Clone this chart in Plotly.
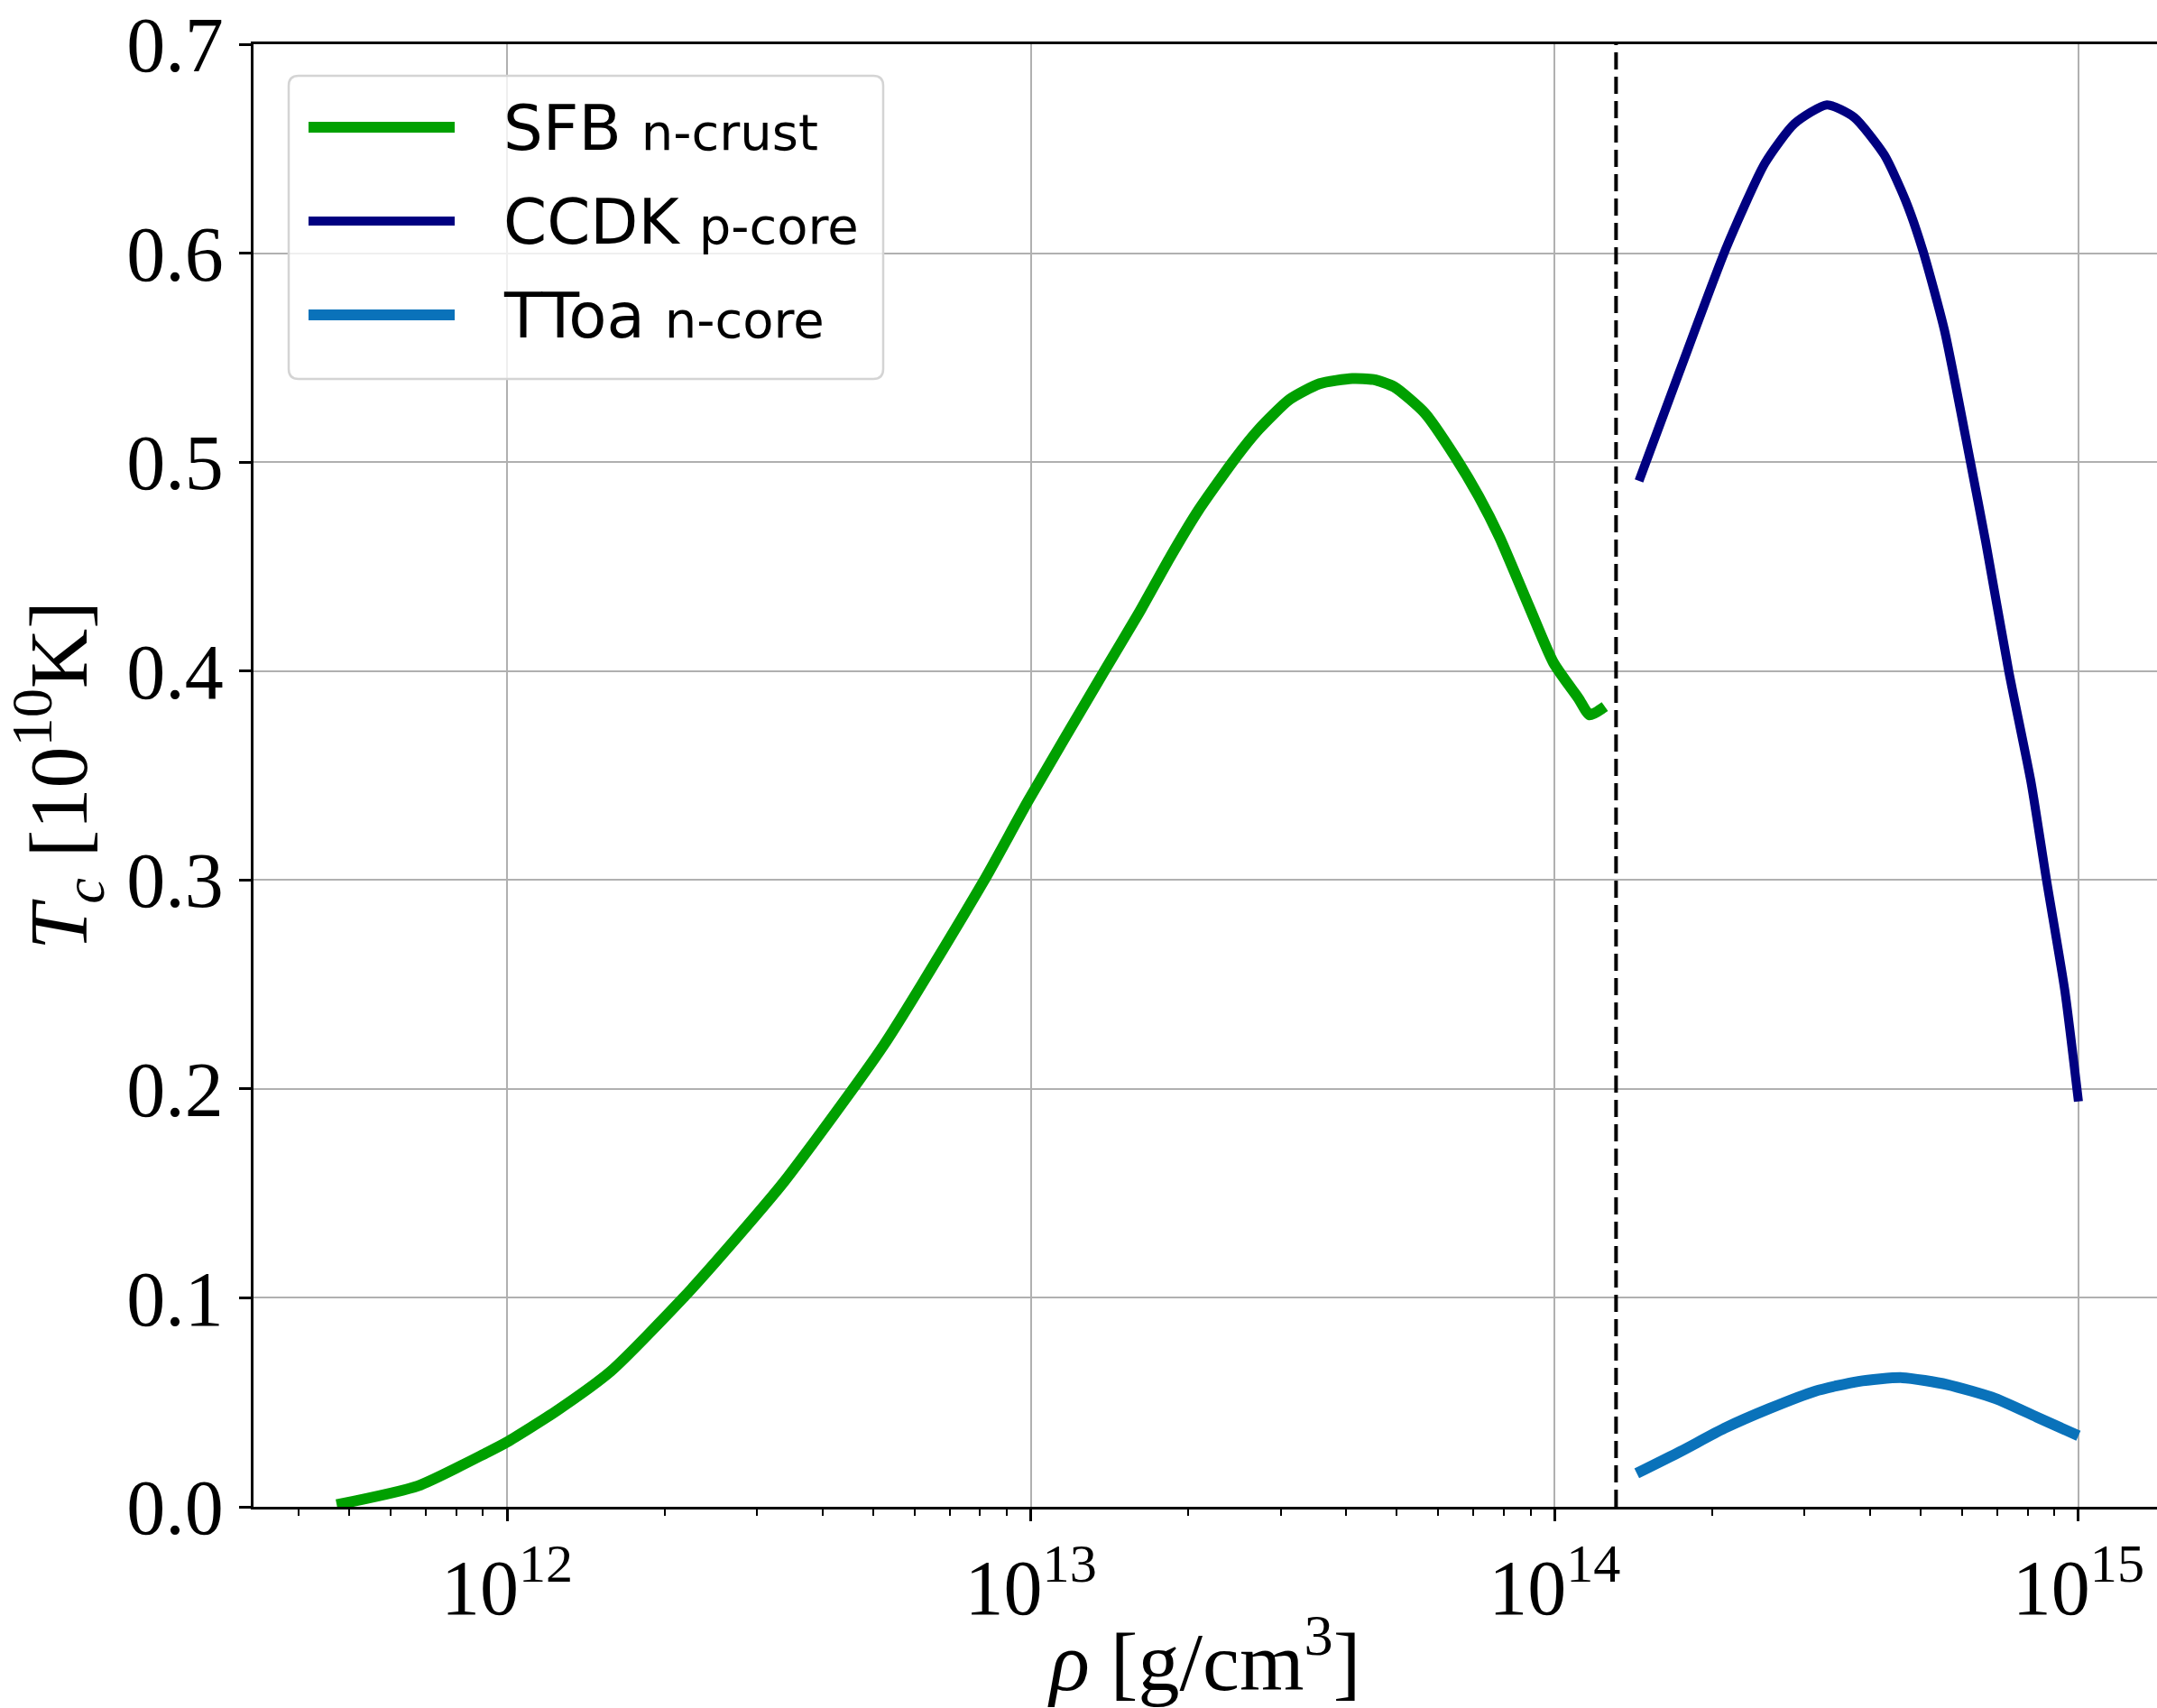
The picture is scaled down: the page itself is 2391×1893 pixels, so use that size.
import plotly.graph_objects as go

# Critical temperature T_c [1e10 K] vs density rho [g/cm^3]

# SFB n-crust (neutron singlet gap in the crust)
sfb_rho = [4.73e11, 6.76e11, 9.16e11, 1.00e12, 1.245e12, 1.58e12, 2.17e12, 2.75e12,
           3.39e12, 5.24e12, 8.11e12, 9.89e12, 1.374e13, 1.61e13, 1.84e13, 2.09e13,
           2.46e13, 2.72e13, 3.12e13, 3.56e13, 4.11e13, 4.51e13, 4.94e13, 5.65e13,
           6.44e13, 7.16e13, 7.85e13, 8.95e13, 9.95e13, 1.11e14, 1.167e14, 1.247e14]
sfb_tc = [0.001, 0.010, 0.026, 0.031, 0.046, 0.065, 0.100, 0.129,
          0.156, 0.221, 0.299, 0.338, 0.399, 0.428, 0.454, 0.477,
          0.502, 0.5155, 0.530, 0.5375, 0.540, 0.5395, 0.536, 0.5235,
          0.503, 0.4837, 0.464, 0.4305, 0.404, 0.387, 0.379, 0.383]

# CCDK p-core (proton singlet gap in the core)
ccdk_rho = [1.449e14, 1.73e14, 2.13e14, 2.52e14, 2.87e14, 3.31e14, 3.73e14, 4.26e14,
            4.68e14, 5.05e14, 5.55e14, 6.21e14, 6.65e14, 7.36e14, 8.13e14, 8.69e14,
            9.42e14, 1.0e15]
ccdk_tc = [0.491, 0.543, 0.603, 0.643, 0.662, 0.671, 0.665, 0.647,
           0.625, 0.601, 0.563, 0.501, 0.462, 0.400, 0.346, 0.300,
           0.247, 0.194]

# TToa n-core (neutron triplet gap in the core)
ttoa_rho = [1.435e14, 1.74e14, 2.11e14, 2.57e14, 3.14e14, 3.80e14, 4.61e14, 5.62e14,
            6.95e14, 8.32e14, 1.0e15]
ttoa_tc = [0.016, 0.0265, 0.0376, 0.047, 0.0553, 0.0600, 0.0618, 0.0585,
           0.0518, 0.043, 0.034]

# crust-core interface
rho_cc = 1.31e14

series = [
    ("SFB", "n-crust", sfb_rho, sfb_tc, "#00a000", 12),
    ("CCDK", "p-core", ccdk_rho, ccdk_tc, "#000080", 10),
    ("TToa", "n-core", ttoa_rho, ttoa_tc, "#0a72ba", 12),
]

x_ticks = [1e12, 1e13, 1e14, 1e15]
x_ticktext = ["10<sup>12</sup>", "10<sup>13</sup>", "10<sup>14</sup>", "10<sup>15</sup>"]
x_minor = [m * 10 ** e for e in range(11, 15) for m in range(2, 10)]
y_ticks = [0.0, 0.1, 0.2, 0.3, 0.4, 0.5, 0.6, 0.7]
y_ticktext = ["0.0", "0.1", "0.2", "0.3", "0.4", "0.5", "0.6", "0.7"]

W, H = 2391, 1893
ML, MR, MT, MB = 281, 0, 49, 223
PW, PH = W - ML - MR, H - MT - MB

fig = go.Figure()
for name, sub, xs, ys, color, lw in series:
    fig.add_trace(go.Scatter(x=xs, y=ys, mode="lines", name=f"{name} {sub}",
                             line=dict(color=color, width=lw, shape="spline", smoothing=0.6),
                             showlegend=False))

fig.add_vline(x=rho_cc, line=dict(color="black", width=4, dash="19px,8px"))

serif = "Liberation Serif"
sans = "DejaVu Sans"


def px(xp):
    return (xp - ML) / PW


def py(yp):
    return (H - MB - yp) / PH


# legend frame with rounded corners
bx0, bx1, by0, by1, r = 320, 979, 84, 420, 11
rx, ry = r / PW, r / PH
X0, X1, Y0, Y1 = px(bx0), px(bx1), py(by0), py(by1)
path = (f"M{X0 + rx},{Y0} L{X1 - rx},{Y0} Q{X1},{Y0} {X1},{Y0 - ry} "
        f"L{X1},{Y1 + ry} Q{X1},{Y1} {X1 - rx},{Y1} L{X0 + rx},{Y1} "
        f"Q{X0},{Y1} {X0},{Y1 + ry} L{X0},{Y0 - ry} Q{X0},{Y0} {X0 + rx},{Y0} Z")
fig.add_shape(type="path", path=path, xref="paper", yref="paper",
              fillcolor="rgba(255,255,255,0.8)", line=dict(color="#d4d4d4", width=2.5),
              layer="above")

rows = [141, 245, 349]
for (name, sub, xs, ys, color, lw), yrow in zip(series, rows):
    fig.add_shape(type="line", xref="paper", yref="paper",
                  x0=px(342), x1=px(504), y0=py(yrow), y1=py(yrow),
                  line=dict(color=color, width=lw), layer="above")
    fig.add_annotation(xref="paper", yref="paper", x=px(556), y=py(yrow + 1),
                       xanchor="left", yanchor="middle", showarrow=False,
                       text=f"{name} <span style='font-size:56px'>{sub}</span>",
                       font=dict(family=sans, size=69, color="black"))

fig.update_layout(
    width=W, height=H,
    margin=dict(l=ML, r=MR, t=MT, b=MB, autoexpand=False),
    paper_bgcolor="white", plot_bgcolor="white",
    font=dict(family=serif, color="black"),
)

fig.update_xaxes(
    type="log", range=[11.516, 15.150], automargin=False,
    tickvals=x_ticks, ticktext=x_ticktext,
    tickfont=dict(family=serif, size=86),
    ticks="outside", ticklen=13, tickwidth=3, tickcolor="black",
    showline=True, linecolor="black", linewidth=3, mirror=True,
    showgrid=True, gridcolor="#b0b0b0", gridwidth=2,
    zeroline=False,
    minor=dict(tickvals=x_minor, ticks="outside", ticklen=7, tickwidth=2,
               tickcolor="black", showgrid=False),
    title=dict(text="<i>ρ</i> [g/cm<sup>3</sup>]", font=dict(family=serif, size=92),
               standoff=34),
)
fig.update_yaxes(
    range=[0, 0.7], tickvals=y_ticks, ticktext=y_ticktext, automargin=False,
    tickfont=dict(family=serif, size=86),
    ticks="outside", ticklen=13, tickwidth=3, tickcolor="black",
    showline=True, linecolor="black", linewidth=3, mirror=False,
    showgrid=True, gridcolor="#b0b0b0", gridwidth=2,
    zeroline=False,
    title=dict(text="<i>T<sub>c</sub></i> [10<sup>10</sup>K]",
               font=dict(family=serif, size=92), standoff=16),
)

fig.write_html("out.html")
